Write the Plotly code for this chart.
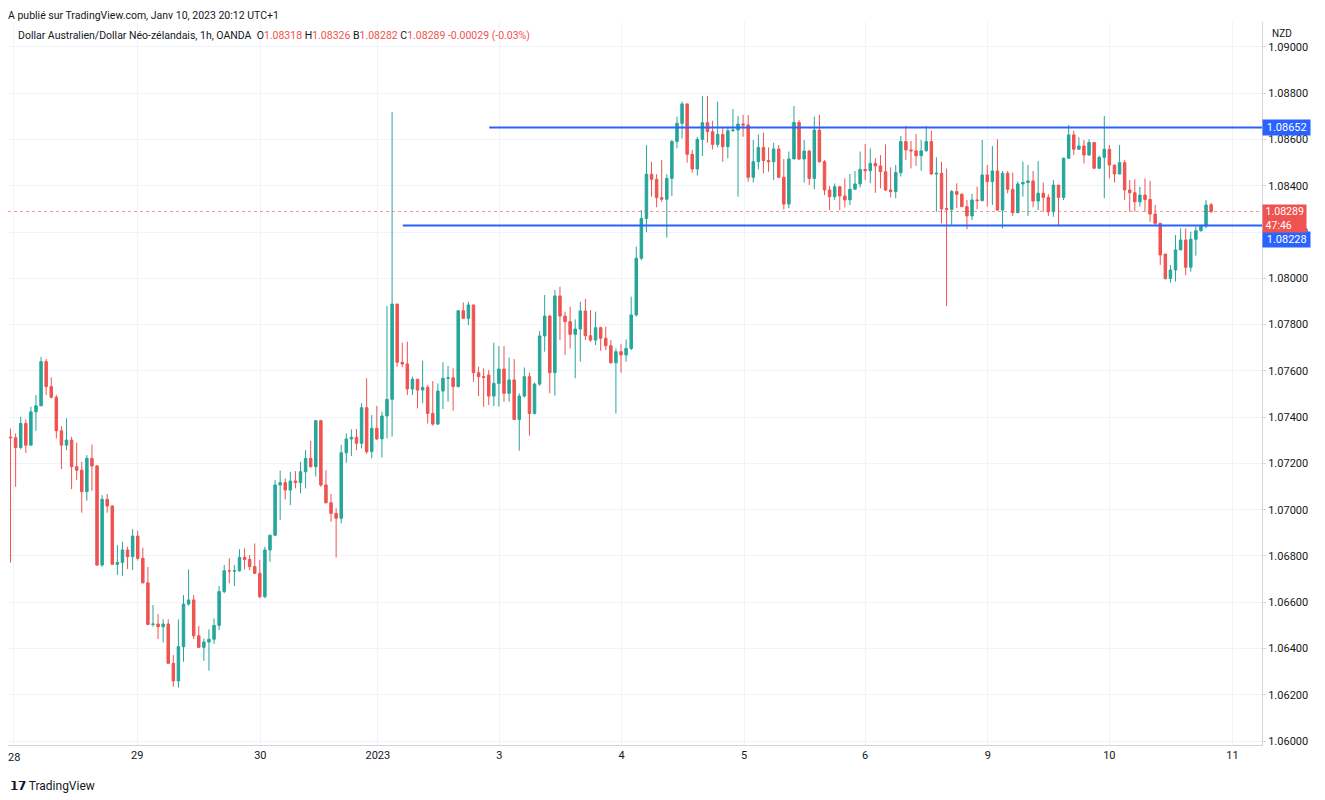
import plotly.graph_objects as go

closes = [1.07311,1.07269,1.07373,1.07279,1.07423,1.07449,1.07640,1.07532,1.07486,1.07341,
1.07279,1.07301,1.07186,1.07171,1.07078,1.07222,1.07189,1.06761,1.07045,1.07016,
1.06764,1.06772,1.06826,1.06797,1.06886,1.06790,1.06684,1.06504,1.06506,1.06494,
1.06506,1.06336,1.06260,1.06408,1.06592,1.06610,1.06455,1.06405,1.06428,1.06440,
1.06500,1.06646,1.06736,1.06735,1.06736,1.06794,1.06785,1.06754,1.06725,1.06624,
1.06826,1.06890,1.07107,1.07117,1.07085,1.07124,1.07117,1.07164,1.07222,1.07186,
1.07385,1.07107,1.07030,1.06984,1.06963,1.07246,1.07306,1.07313,1.07287,1.07441,
1.07251,1.07352,1.07306,1.07405,1.07477,1.07889,1.07637,1.07630,1.07522,1.07564,
1.07517,1.07529,1.07416,1.07370,1.07513,1.07568,1.07570,1.07532,1.07860,1.07827,
1.07885,1.07592,1.07575,1.07572,1.07491,1.07546,1.07608,1.07503,1.07561,1.07390,
1.07491,1.07575,1.07416,1.07543,1.07751,1.07837,1.07592,1.07924,1.07837,1.07813,
1.07758,1.07781,1.07859,1.07752,1.07733,1.07787,1.07741,1.07709,1.07635,1.07683,
1.07669,1.07697,1.07842,1.08087,1.08259,1.08450,1.08428,1.08349,1.08342,1.08432,
1.08591,1.08670,1.08754,1.08536,1.08473,1.08601,1.08673,1.08634,1.08579,1.08622,
1.08569,1.08638,1.08641,1.08667,1.08663,1.08437,1.08504,1.08566,1.08509,1.08504,
1.08559,1.08437,1.08321,1.08516,1.08674,1.08516,1.08550,1.08432,1.08641,1.08504,
1.08382,1.08353,1.08396,1.08356,1.08339,1.08385,1.08408,1.08471,1.08465,1.08497,
1.08486,1.08461,1.08382,1.08375,1.08457,1.08591,1.08555,1.08551,1.08530,1.08551,
1.08591,1.08451,1.08454,1.08300,1.08298,1.08375,1.08363,1.08310,1.08270,1.08339,
1.08336,1.08447,1.08418,1.08464,1.08295,1.08454,1.08385,1.08284,1.08408,1.08414,
1.08421,1.08334,1.08368,1.08350,1.08288,1.08403,1.08350,1.08519,1.08620,1.08558,
1.08572,1.08533,1.08587,1.08476,1.08523,1.08558,1.08490,1.08451,1.08500,1.08382,
1.08370,1.08331,1.08360,1.08341,1.08278,1.08238,1.08101,1.07999,1.08036,1.08123,
1.08166,1.08048,1.08169,1.08206,1.08226,1.08317,1.08289]

opens = [1.07314,1.07311,1.07269,1.07373,1.07279,1.07423,1.07449,1.07640,1.07532,1.07486,
1.07341,1.07279,1.07301,1.07186,1.07171,1.07078,1.07222,1.07189,1.06761,1.07045,
1.07016,1.06764,1.06772,1.06826,1.06797,1.06886,1.06790,1.06684,1.06504,1.06506,
1.06494,1.06506,1.06336,1.06260,1.06408,1.06592,1.06610,1.06455,1.06405,1.06428,
1.06440,1.06500,1.06646,1.06736,1.06735,1.06736,1.06794,1.06785,1.06754,1.06725,
1.06624,1.06826,1.06890,1.07107,1.07117,1.07085,1.07124,1.07117,1.07164,1.07222,
1.07186,1.07385,1.07107,1.07030,1.06984,1.06963,1.07246,1.07306,1.07313,1.07287,
1.07441,1.07251,1.07352,1.07306,1.07405,1.07477,1.07889,1.07637,1.07630,1.07522,
1.07564,1.07517,1.07529,1.07416,1.07370,1.07513,1.07568,1.07570,1.07532,1.07860,
1.07827,1.07885,1.07592,1.07575,1.07582,1.07491,1.07546,1.07608,1.07503,1.07561,
1.07390,1.07491,1.07575,1.07416,1.07543,1.07751,1.07837,1.07592,1.07924,1.07837,
1.07813,1.07758,1.07781,1.07859,1.07752,1.07733,1.07787,1.07741,1.07709,1.07635,
1.07683,1.07669,1.07697,1.07842,1.08087,1.08259,1.08450,1.08428,1.08349,1.08342,
1.08432,1.08591,1.08670,1.08754,1.08536,1.08473,1.08601,1.08673,1.08634,1.08579,
1.08622,1.08569,1.08638,1.08641,1.08667,1.08663,1.08437,1.08504,1.08566,1.08509,
1.08504,1.08559,1.08437,1.08321,1.08516,1.08674,1.08516,1.08550,1.08432,1.08641,
1.08504,1.08382,1.08353,1.08396,1.08356,1.08339,1.08385,1.08408,1.08471,1.08465,
1.08497,1.08486,1.08461,1.08382,1.08375,1.08457,1.08591,1.08555,1.08551,1.08530,
1.08551,1.08591,1.08451,1.08454,1.08302,1.08298,1.08375,1.08363,1.08310,1.08270,
1.08339,1.08336,1.08447,1.08418,1.08464,1.08295,1.08454,1.08385,1.08284,1.08408,
1.08414,1.08421,1.08334,1.08368,1.08350,1.08288,1.08403,1.08350,1.08519,1.08620,
1.08558,1.08572,1.08533,1.08587,1.08476,1.08523,1.08558,1.08490,1.08451,1.08500,
1.08382,1.08370,1.08331,1.08360,1.08341,1.08278,1.08238,1.08105,1.07999,1.08036,
1.08123,1.08166,1.08048,1.08169,1.08206,1.08226,1.08318]

highs = [1.07351,1.07330,1.07402,1.07390,1.07445,1.07496,1.07661,1.07651,1.07572,1.07496,
1.07361,1.07395,1.07315,1.07289,1.07207,1.07236,1.07282,1.07193,1.07063,1.07068,
1.07020,1.06847,1.06862,1.06840,1.06916,1.06909,1.06836,1.06753,1.06588,1.06549,
1.06526,1.06526,1.06372,1.06526,1.06631,1.06742,1.06631,1.06497,1.06444,1.06483,
1.06530,1.06670,1.06761,1.06790,1.06761,1.06829,1.06833,1.06804,1.06854,1.06783,
1.06840,1.06890,1.07128,1.07169,1.07135,1.07164,1.07167,1.07207,1.07258,1.07297,
1.07385,1.07388,1.07171,1.07068,1.07006,1.07280,1.07330,1.07347,1.07349,1.07460,
1.07568,1.07409,1.07448,1.07424,1.07881,1.08719,1.07889,1.07722,1.07726,1.07575,
1.07563,1.07644,1.07539,1.07556,1.07546,1.07637,1.07622,1.07611,1.07863,1.07896,
1.07899,1.07885,1.07618,1.07611,1.07604,1.07722,1.07707,1.07707,1.07658,1.07651,
1.07503,1.07615,1.07592,1.07550,1.07772,1.07928,1.07841,1.07950,1.07964,1.07856,
1.07878,1.07823,1.07899,1.07911,1.07863,1.07856,1.07791,1.07791,1.07733,1.07697,
1.07715,1.07736,1.07921,1.08137,1.08295,1.08576,1.08504,1.08450,1.08511,1.08450,
1.08598,1.08699,1.08764,1.08756,1.08555,1.08612,1.08788,1.08788,1.08681,1.08764,
1.08655,1.08655,1.08732,1.08702,1.08706,1.08706,1.08598,1.08622,1.08630,1.08566,
1.08586,1.08576,1.08516,1.08548,1.08745,1.08684,1.08598,1.08555,1.08699,1.08706,
1.08511,1.08399,1.08410,1.08399,1.08432,1.08451,1.08464,1.08548,1.08581,1.08562,
1.08519,1.08533,1.08579,1.08480,1.08490,1.08615,1.08659,1.08594,1.08624,1.08598,
1.08659,1.08638,1.08523,1.08504,1.08474,1.08382,1.08411,1.08368,1.08339,1.08365,
1.08396,1.08598,1.08490,1.08572,1.08601,1.08464,1.08464,1.08457,1.08418,1.08504,
1.08490,1.08464,1.08507,1.08414,1.08364,1.08425,1.08403,1.08522,1.08663,1.08638,
1.08610,1.08598,1.08601,1.08587,1.08530,1.08702,1.08576,1.08490,1.08576,1.08511,
1.08425,1.08428,1.08396,1.08432,1.08422,1.08317,1.08238,1.08105,1.08058,1.08187,
1.08216,1.08216,1.08202,1.08223,1.08231,1.08339,1.08326]

lows = [1.06771,1.07099,1.07261,1.07246,1.07279,1.07341,1.07449,1.07496,1.07481,1.07308,
1.07176,1.07258,1.07089,1.07128,1.06987,1.07039,1.07082,1.06757,1.06753,1.06987,
1.06761,1.06718,1.06713,1.06744,1.06739,1.06780,1.06681,1.06501,1.06494,1.06441,
1.06426,1.06333,1.06235,1.06231,1.06343,1.06585,1.06441,1.06405,1.06347,1.06304,
1.06420,1.06480,1.06639,1.06682,1.06670,1.06732,1.06742,1.06739,1.06722,1.06617,
1.06617,1.06775,1.06886,1.06955,1.07045,1.07020,1.07092,1.07071,1.07092,1.07182,
1.07143,1.07099,1.07027,1.06948,1.06793,1.06941,1.07203,1.07232,1.07258,1.07265,
1.07241,1.07222,1.07301,1.07226,1.07308,1.07316,1.07618,1.07616,1.07496,1.07496,
1.07438,1.07460,1.07373,1.07363,1.07366,1.07435,1.07467,1.07428,1.07529,1.07824,
1.07798,1.07553,1.07491,1.07445,1.07452,1.07448,1.07445,1.07467,1.07467,1.07388,
1.07255,1.07485,1.07320,1.07412,1.07536,1.07683,1.07503,1.07493,1.07733,1.07669,
1.07697,1.07568,1.07640,1.07733,1.07726,1.07712,1.07687,1.07690,1.07632,1.07416,
1.07592,1.07640,1.07690,1.07835,1.08079,1.08200,1.08353,1.08307,1.08331,1.08176,
1.08356,1.08562,1.08605,1.08500,1.08457,1.08444,1.08529,1.08586,1.08557,1.08566,
1.08504,1.08519,1.08634,1.08353,1.08612,1.08418,1.08414,1.08471,1.08454,1.08461,
1.08425,1.08432,1.08298,1.08303,1.08516,1.08511,1.08414,1.08403,1.08385,1.08500,
1.08360,1.08295,1.08339,1.08295,1.08307,1.08317,1.08398,1.08393,1.08425,1.08411,
1.08370,1.08389,1.08378,1.08350,1.08346,1.08440,1.08511,1.08475,1.08486,1.08465,
1.08548,1.08447,1.08288,1.08238,1.07880,1.08231,1.08303,1.08310,1.08212,1.08252,
1.08298,1.08332,1.08310,1.08317,1.08292,1.08216,1.08367,1.08270,1.08281,1.08353,
1.08270,1.08307,1.08295,1.08288,1.08270,1.08266,1.08230,1.08338,1.08519,1.08533,
1.08555,1.08497,1.08530,1.08472,1.08472,1.08346,1.08432,1.08414,1.08450,1.08339,
1.08288,1.08288,1.08310,1.08288,1.08245,1.08231,1.08058,1.07995,1.07981,1.07986,
1.08123,1.08014,1.08029,1.08098,1.08202,1.08216,1.08282]

tick_labels = ["28", "29", "30", "2023", "3", "4", "5", "6", "9", "10", "11"]
tick_pos = [0.6, 24.9, 49.1, 72.2, 96.1, 120.1, 144.2, 168.0, 192.1, 216.0, 240.2]

resistance = 1.08652
support = 1.08228
last_price = 1.08289
res_start = 94.1
sup_start = 77.1

GREEN = "#26a69a"
RED = "#ef5350"
BLUE = "#2962ff"

n = len(closes)
hi = [max(h, o, c) for h, o, c in zip(highs, opens, closes)]
lo = [min(l, o, c) for l, o, c in zip(lows, opens, closes)]

fig = go.Figure()
fig.add_trace(go.Candlestick(
    x=list(range(n)), open=opens, high=hi, low=lo, close=closes,
    increasing=dict(line=dict(color=GREEN, width=1), fillcolor=GREEN),
    decreasing=dict(line=dict(color=RED, width=1), fillcolor=RED),
    whiskerwidth=0, hoverinfo="skip", showlegend=False))

XMIN, XMAX = -0.5, 246.0
fig.add_shape(type="line", x0=XMIN, x1=XMAX, y0=last_price, y1=last_price,
              line=dict(color=RED, width=1, dash="dot"), opacity=0.6)
fig.add_shape(type="line", x0=res_start, x1=XMAX, y0=resistance, y1=resistance,
              line=dict(color=BLUE, width=2))
fig.add_shape(type="line", x0=sup_start, x1=XMAX, y0=support, y1=support,
              line=dict(color=BLUE, width=2))
fig.add_shape(type="line", xref="paper", yref="paper", x0=1.045, x1=1.045, y0=-0.03, y1=1.04,
              line=dict(color="#e0e3eb", width=1))

fig.update_layout(
    width=1325, height=800, plot_bgcolor="white", paper_bgcolor="white",
    margin=dict(l=0, r=71, t=14, b=63, autoexpand=False),
    font=dict(family="Roboto, Arial, sans-serif", size=11, color="#131722"),
    xaxis=dict(range=[XMIN, XMAX], rangeslider=dict(visible=False),
               tickvals=tick_pos, ticktext=[""] + tick_labels[1:], showgrid=True,
               gridcolor="#f0f3fa", zeroline=False, showline=True,
               linecolor="#d1d4dc", ticks="", tickfont=dict(size=11)),
    yaxis=dict(range=[1.05983, 1.09108], side="right", dtick=0.002,
               tick0=1.06, tickformat=".5f", showgrid=True, gridcolor="#f0f3fa",
               zeroline=False, showline=True, linecolor="#d1d4dc",
               ticks="outside", ticklen=3, tickcolor="#d1d4dc", tickfont=dict(size=11)),
)
fig.add_annotation(x=tick_pos[0], xref="x", y=0, yref="paper", yanchor="top", yshift=-4,
                   text=tick_labels[0], showarrow=False, font=dict(size=11))

def price_label(y, text, color, yshift=0):
    fig.add_annotation(x=1, xref="paper", y=y, yref="y", xanchor="left",
                       text=text, showarrow=False,
                       font=dict(color="white", size=11), bgcolor=color,
                       borderpad=1, xshift=0, yshift=yshift)

price_label(resistance, " 1.08652 ", BLUE)
price_label(support, " 1.08228 ", BLUE, yshift=-14)
fig.add_annotation(x=1, xref="paper", y=last_price, yref="y", xanchor="left",
                   yanchor="top", yshift=7,
                   text=" 1.08289 <br> 47:46", showarrow=False, align="left",
                   font=dict(color="white", size=10.5), bgcolor=RED, borderpad=0, xshift=0)

r = lambda s: '<span style="color:%s">%s</span>' % (RED, s)
header = ("Dollar Australien/Dollar Néo-zélandais, 1h, OANDA  O" + r("1.08318") +
          " H" + r("1.08326") + " B" + r("1.08282") + " C" + r("1.08289") +
          " " + r("-0.00029 (-0.03%)"))
fig.add_annotation(x=0, xref="paper", y=1, yref="paper", xanchor="left", yanchor="top",
                   xshift=8, yshift=-5, text=header, showarrow=False, font=dict(size=10.5))
fig.add_annotation(x=0, xref="paper", y=1, yref="paper", xanchor="left", yanchor="bottom",
                   yshift=-2, xshift=-2, text="A publié sur TradingView.com, Janv 10, 2023 20:12 UTC+1",
                   showarrow=False, font=dict(size=10.5))
fig.add_annotation(x=1, xref="paper", y=1, yref="paper", xanchor="left", yanchor="top",
                   xshift=8, yshift=-4, text="NZD", showarrow=False, font=dict(size=10))
fig.add_annotation(x=0, xref="paper", y=0, yref="paper", xanchor="left", yanchor="top",
                   yshift=-32, xshift=0, text="<b>𝟭𝟳</b> TradingView", showarrow=False,
                   font=dict(size=12))

fig.write_html("out.html")
